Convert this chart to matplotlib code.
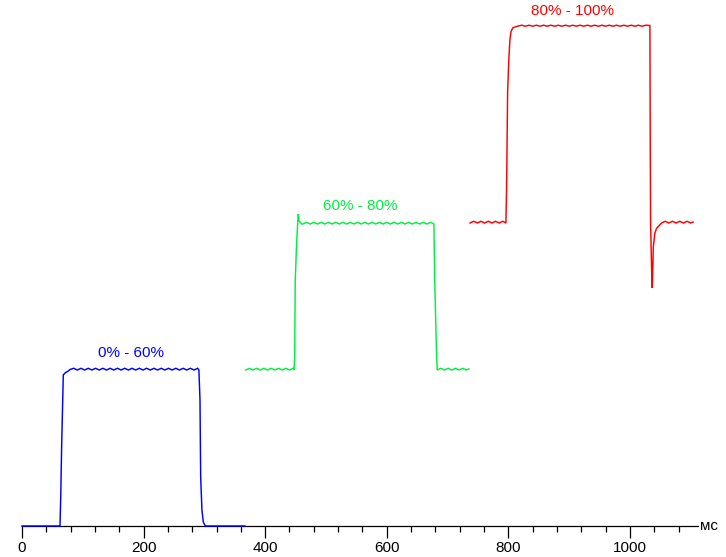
import matplotlib
matplotlib.use("Agg")
import matplotlib.pyplot as plt
from matplotlib.ticker import MultipleLocator

plt.rcParams['font.family'] = ['Liberation Sans', 'DejaVu Sans']

# ---- data (time in ms, response level in arbitrary units) ----
blue_t = [0, 62.5, 63.7, 65.3, 66.9, 67.9, 70.7, 76.2, 79,
          85, 91, 97, 103, 109, 115, 121, 127, 133, 139, 145, 151, 157, 163, 169,
          175, 181, 187, 193, 199, 205, 211, 217, 223, 229, 235, 241, 247, 253,
          259, 265, 271, 277, 283, 289,
          291, 292.8, 293.9, 296, 298.2, 301.5, 366.8]
blue_v = [0, 0, 29, 83, 124, 151, 153, 155, 156.5,
          157.7, 156, 157.7, 156, 157.7, 156, 157.7, 156, 157.7, 156, 157.7, 156, 157.7, 156, 157.7,
          156, 157.7, 156, 157.7, 156, 157.7, 156, 157.7, 156, 157.7, 156, 157.7, 156, 157.7,
          156, 157.7, 156, 157.7, 156, 157.7,
          156, 126, 49, 16, 4, 0, 0]

green_t = [368, 374, 380, 386, 392, 398, 404, 410, 416, 422, 428, 434, 440, 446,
           447.4, 448.5, 449.5, 451.8, 453.5, 454.5, 455.6, 457.2, 459.9, 462,
           468, 474, 480, 486, 492, 498, 504, 510, 516, 522, 528, 534, 540, 546,
           552, 558, 564, 570, 576, 582, 588, 594, 600, 606, 612, 618, 624, 630,
           636, 642, 648, 654, 660, 666, 672, 677.6,
           678.8, 680.9, 682, 683.1,
           689, 695, 701, 707, 713, 719, 725, 731, 735.2]
green_v = [156, 157.7, 156, 157.7, 156, 157.7, 156, 157.7, 156, 157.7, 156, 157.7, 156, 157.7,
           156, 168, 246, 284, 303, 312, 305, 304, 302, 302,
           303.7, 302, 303.7, 302, 303.7, 302, 303.7, 302, 303.7, 302, 303.7, 302, 303.7, 302,
           303.7, 302, 303.7, 302, 303.7, 302, 303.7, 302, 303.7, 302, 303.7, 302, 303.7, 302,
           303.7, 302, 303.7, 302, 303.7, 302, 303.7, 302,
           249, 196, 171, 156,
           157.7, 156, 157.7, 156, 157.7, 156, 157.7, 156, 157]

red_t = [737, 743, 749, 755, 761, 767, 773, 779, 785, 791, 796,
         797.2, 798.8, 801, 802.6, 804.3, 807.1, 810.9, 816.3,
         822, 828, 834, 840, 846, 852, 858, 864, 870, 876, 882, 888, 894, 900,
         906, 912, 918, 924, 930, 936, 942, 948, 954, 960, 966, 972, 978, 984,
         990, 996, 1002, 1008, 1014, 1020, 1026, 1032.9,
         1033.4, 1034.0, 1035.8, 1036.8, 1038.5, 1041.1, 1043.9, 1046.5, 1049, 1052,
         1058, 1064, 1070, 1076, 1082, 1088, 1094, 1100, 1104]
red_v = [303, 304.7, 303, 304.7, 303, 304.7, 303, 304.7, 303, 304.7, 303,
         341, 434, 469, 486, 494, 498, 499, 500,
         500.8, 499.8, 500.8, 499.8, 500.8, 499.8, 500.8, 499.8, 500.8, 499.8, 500.8, 499.8,
         500.8, 499.8, 500.8, 499.8, 500.8, 499.8, 500.8, 499.8, 500.8, 499.8, 500.8, 499.8,
         500.8, 499.8, 500.8, 499.8, 500.8, 499.8, 500.8, 499.8, 500.8, 499.8, 500.8, 500.5,
         393, 303, 254, 238, 279, 293, 297.7, 299.3, 301, 303,
         304.7, 303, 304.7, 303, 304.7, 303, 304.7, 303, 304]

labels = ["0% - 60%", "60% - 80%", "80% - 100%"]
label_t = [179, 557, 906]
label_v = [173, 320, 515]
colors = ["#0000ff", "#00f040", "#ff0000"]

# ---- figure ----
fig = plt.figure(figsize=(7.26, 5.57), dpi=100)
ax = fig.add_axes([22 / 726, 31 / 557, 676 / 726, 526 / 557])
ax.set_xlim(0, 1112)
ax.set_ylim(0, 526)

for (t, v), c in zip([(blue_t, blue_v), (green_t, green_v), (red_t, red_v)], colors):
    ax.plot(t, v, color=c, lw=1.05, clip_on=False, zorder=3,
            solid_joinstyle='miter')

for s, x, y, c in zip(labels, label_t, label_v, colors):
    ax.text(x, y, s, color=c, fontsize=11, ha='center', va='center')

for side in ['left', 'right', 'top']:
    ax.spines[side].set_visible(False)
ax.spines['bottom'].set_linewidth(0.9)
ax.spines['bottom'].set_zorder(2)

ax.xaxis.set_major_locator(MultipleLocator(200))
ax.xaxis.set_minor_locator(MultipleLocator(40))
ax.tick_params(axis='x', which='major', direction='out', length=8.6, width=0.9,
               labelsize=11, pad=2.5)
ax.tick_params(axis='x', which='minor', direction='out', length=4.3, width=0.9)
ax.set_yticks([])

fig.text(700 / 726, 1 - 526 / 557, "мс", fontsize=11, ha='left', va='center')

fig.savefig("out.png", dpi=100)
